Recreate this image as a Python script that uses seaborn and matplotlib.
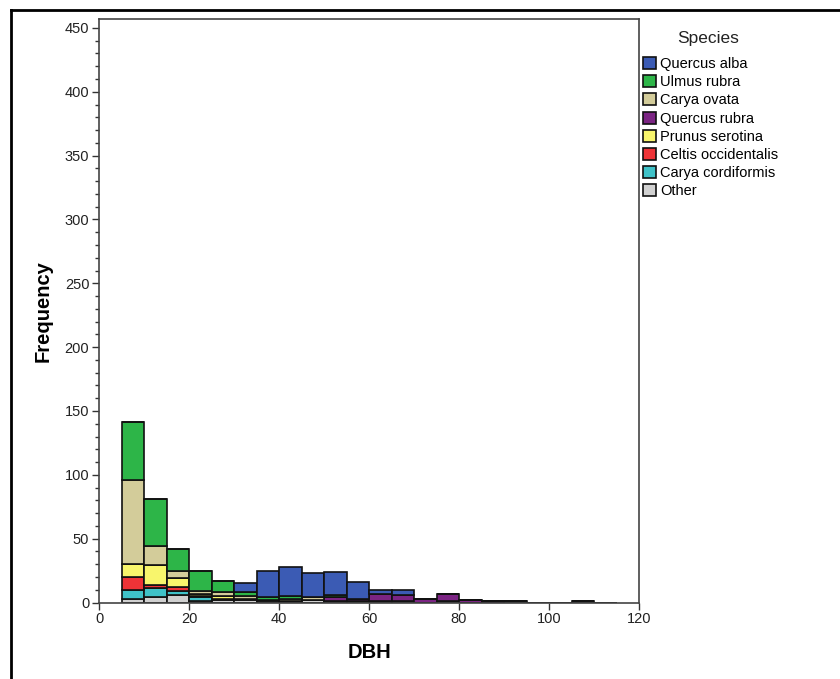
import numpy as np
import pandas as pd
import matplotlib
matplotlib.use("Agg")
import matplotlib.pyplot as plt
from matplotlib.lines import Line2D
from matplotlib.ticker import MultipleLocator
import seaborn as sns

# DBH classes (5 cm wide), lower edges 5..110
bin_lower = [5, 10, 15, 20, 25, 30, 35, 40, 45, 50, 55,
             60, 65, 70, 75, 80, 85, 90, 95, 100, 105, 110]

species = ["Quercus alba", "Ulmus rubra", "Carya ovata", "Quercus rubra",
           "Prunus serotina", "Celtis occidentalis", "Carya cordiformis", "Other"]

quercus_alba   = [0, 0, 0, 0, 0, 7, 21, 23, 19, 18, 13, 3, 4, 0, 0, 0, 0, 0, 0, 0, 0, 0]
ulmus_rubra    = [45, 37, 17, 16, 9, 3, 2, 2, 0, 2, 0, 0, 0, 0, 0, 0, 0, 0, 0, 0, 0, 0]
carya_ovata    = [66, 15, 6, 2, 3, 2, 0, 2, 2, 0, 0, 0, 0, 0, 0, 0, 0, 0, 0, 0, 0, 0]
quercus_rubra  = [0, 0, 0, 0, 0, 0, 0, 0, 0, 3, 2, 6, 5, 3, 6, 2, 1, 0, 0, 0, 0, 0]
prunus         = [10, 15, 7, 2, 2, 0, 0, 0, 0, 0, 0, 0, 0, 0, 0, 0, 0, 0, 0, 0, 0, 0]
celtis         = [10, 3, 3, 1, 0, 0, 0, 0, 0, 0, 0, 0, 0, 0, 0, 0, 0, 0, 0, 0, 0, 0]
carya_cordif   = [7, 7, 3, 3, 1, 1, 1, 0, 0, 0, 0, 0, 0, 0, 0, 0, 0, 0, 0, 0, 0, 0]
other          = [3, 4, 6, 1, 2, 2, 1, 1, 2, 1, 1, 1, 1, 0, 1, 0, 0, 1, 0, 0, 1, 0]

colors = ["#3b5bb4", "#2db548", "#d3cc9a", "#7b2483",
          "#f8f56c", "#ee3337", "#3fc2c8", "#d0d0d0"]

counts = [quercus_alba, ulmus_rubra, carya_ovata, quercus_rubra,
          prunus, celtis, carya_cordif, other]

rows = []
for name, vals in zip(species, counts):
    for lo, c in zip(bin_lower, vals):
        rows.append({"DBH": lo + 2.5, "Species": name, "Count": float(c)})
df = pd.DataFrame(rows)

plt.rcParams["font.family"] = ["Liberation Sans", "DejaVu Sans"]

fig = plt.figure(figsize=(8.4, 6.79), dpi=100)
ax = fig.add_axes([99 / 840, 1 - 602.5 / 679, 540 / 840, 583.5 / 679])

sns.histplot(data=df, x="DBH", weights="Count", hue="Species",
             hue_order=species, palette=colors,
             binwidth=5, binrange=(5, 115), multiple="stack",
             edgecolor="#111111", linewidth=1.2, alpha=1, ax=ax)

ax.set_xlim(0, 120)
ax.set_ylim(0, 457)
ax.xaxis.set_major_locator(MultipleLocator(20))
ax.yaxis.set_major_locator(MultipleLocator(50))
ax.yaxis.set_minor_locator(MultipleLocator(10))
ax.tick_params(axis="both", which="major", length=5, width=1,
               color="#333333", labelsize=10.5, labelcolor="#222222", pad=2)
ax.tick_params(axis="y", which="minor", length=3, width=1, color="#333333")
for sp in ax.spines.values():
    sp.set_color("#444444")
    sp.set_linewidth(1.2)

ax.set_xlabel("DBH", fontsize=14.5, fontweight="bold", labelpad=12)
ax.set_ylabel("Frequency", fontsize=14.5, fontweight="bold", labelpad=9)

sns.move_legend(ax, "upper left", bbox_to_anchor=(643 / 840, 1 - 57 / 679),
                bbox_transform=fig.transFigure, frameon=False,
                title=None, fontsize=10.5,
                handlelength=0.9, handleheight=0.9, handletextpad=0.3,
                labelspacing=0.28, borderpad=0, borderaxespad=0)
fig.text(708 / 840, 1 - 38 / 679, "Species", fontsize=12.5,
         color="#222222", ha="center", va="center")

# border box around the figure
fig.add_artist(Line2D([11 / 840, 1], [1 - 10 / 679, 1 - 10 / 679],
                      transform=fig.transFigure, color="black", lw=2))
fig.add_artist(Line2D([11 / 840, 11 / 840], [0, 1 - 10 / 679],
                      transform=fig.transFigure, color="black", lw=2))

fig.savefig("out.png", dpi=100)
